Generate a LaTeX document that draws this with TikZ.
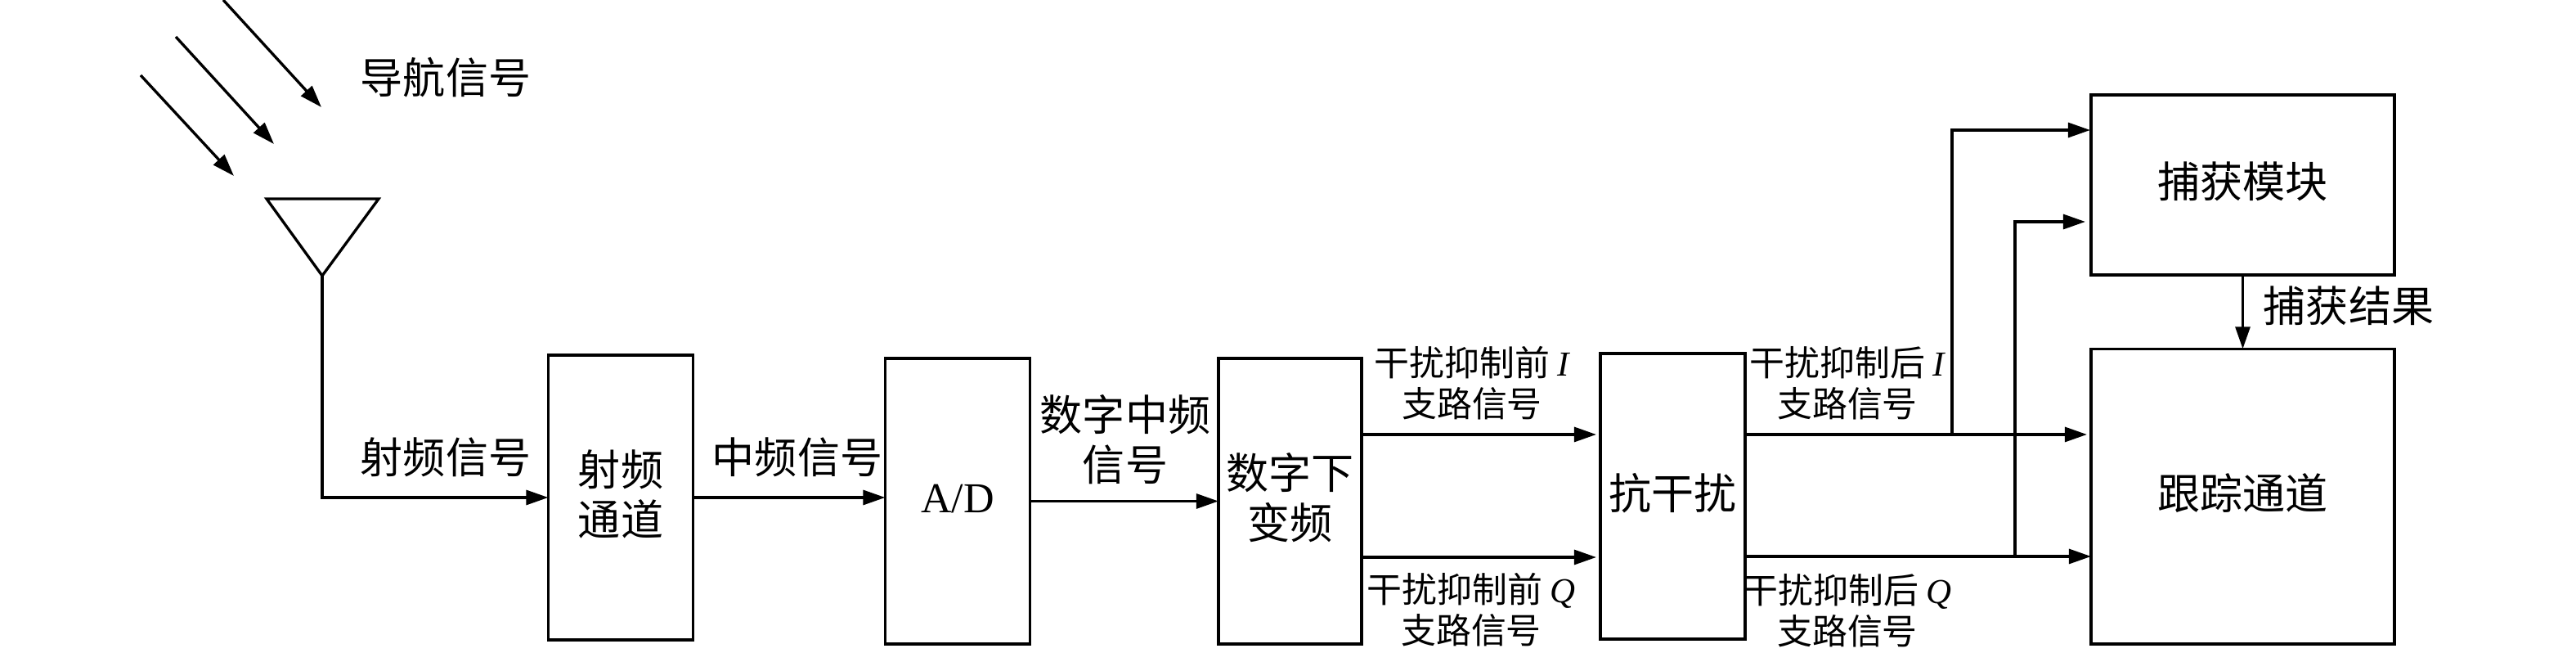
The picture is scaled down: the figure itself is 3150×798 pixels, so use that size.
\documentclass[tikz,border=0pt]{standalone}
\usepackage{fontspec}
\newfontfamily\cjk{Noto Sans CJK SC}
\newfontfamily\lat{Liberation Serif}
\newcommand{\branch}[1]{{\lat\itshape #1}}
\usetikzlibrary{arrows.meta,positioning,calc}
\tikzset{
  block/.style={rectangle,draw,line width=0.95pt,inner sep=0pt,outer sep=0pt,text depth=3.5pt,font=\cjk\fontsize{14.8}{17.4}\selectfont,align=center},
  biglabel/.style={inner sep=0pt,font=\cjk\fontsize{14.8}{17.4}\selectfont,align=center},
  smalllabel/.style={inner sep=0pt,font=\cjk\fontsize{12.2}{14.2}\selectfont,align=center},
  sig/.style={line width=0.95pt,-{Stealth[length=7.7pt,width=5.1pt,inset=0pt]}},
  wire/.style={line width=0.95pt}
}
\begin{document}
\begin{tikzpicture}[x=0.01cm,y=-0.01cm]
\useasboundingbox (0,0) rectangle (3150,798);

% Antenna and incoming signals
\coordinate (ant1) at (326,243);
\coordinate (ant2) at (463,243);
\coordinate (ant) at (394,337);
\draw[wire,line join=miter] (ant1) -- (ant2) -- (ant) -- cycle;
\coordinate (nav1s) at (273,0);
\coordinate (nav1e) at (393,131);
\coordinate (nav2s) at (215,45);
\coordinate (nav2e) at (335,176);
\coordinate (nav3s) at (172,92);
\coordinate (nav3e) at (286,215);
\draw[sig] (nav1s) -- (nav1e);
\draw[sig] (nav2s) -- (nav2e);
\draw[sig] (nav3s) -- (nav3e);
\node[biglabel] (navlabel) at (545,95) {导航信号};

% Blocks
\node[block,minimum width=177cm/100,minimum height=348cm/100] (rf) at (759,608) {射频\\通道};
\node[block,minimum width=177cm/100,minimum height=349cm/100,text depth=2pt] (ad) at (1171,612.5) {\lat A/D};
\node[block,minimum width=175cm/100,minimum height=349cm/100] (ddc) at (1577.5,612.5) {数字下\\变频};
\node[block,minimum width=177cm/100,minimum height=349cm/100] (anti) at (2045.5,606.5) {抗干扰};
\node[block,minimum width=371cm/100,minimum height=220cm/100] (acq) at (2742.5,226) {捕获模块};
\node[block,minimum width=371cm/100,minimum height=360.5cm/100] (track) at (2742.5,606.7) {跟踪通道};

% Arrow ends
\coordinate (ddci) at (1665,531);
\coordinate (ddcq) at (1665,681);
\coordinate (antii) at (1952,531);
\coordinate (antiq) at (1952,681);
\coordinate (outi) at (2134,531);
\coordinate (outq) at (2134,680);
\coordinate (tracki) at (2552,531);
\coordinate (trackq) at (2557,680);
\coordinate (bri) at (2387,531);
\coordinate (brq) at (2464,680);
\coordinate (acqi) at (2556,159);
\coordinate (acqq) at (2550,271);

% Arrows
\draw[sig] (ant) |- (rf.west);
\draw[sig] (rf.east) -- (ad.west |- rf.east);
\draw[sig] (ad.east) -- (ddc.west);
\draw[sig] (ddci) -- (antii);
\draw[sig] (ddcq) -- (antiq);
\draw[sig] (outi) -- (tracki);
\draw[sig] (outq) -- (trackq);
\draw[sig] (bri) |- (acqi);
\draw[sig] (brq) |- (acqq);
\draw[sig] (acq.south) -- (track.north);

% Labels
\node[biglabel] (rflabel) at (545,559) {射频信号};
\node[biglabel] (iflabel) at (975,559) {中频信号};
\node[biglabel] (diglabel) at (1376,537) {数字中频\\信号};
\node[smalllabel] (prei) at (1800,468) {干扰抑制前 \branch{I}\\支路信号};
\node[smalllabel] (preq) at (1799,745) {干扰抑制前 \branch{Q}\\支路信号};
\node[smalllabel] (posti) at (2259,468) {干扰抑制后 \branch{I}\\支路信号};
\node[smalllabel] (postq) at (2259,746) {干扰抑制后 \branch{Q}\\支路信号};
\node[biglabel] (acqres) at (2872,374) {捕获结果};
\end{tikzpicture}
\end{document}
